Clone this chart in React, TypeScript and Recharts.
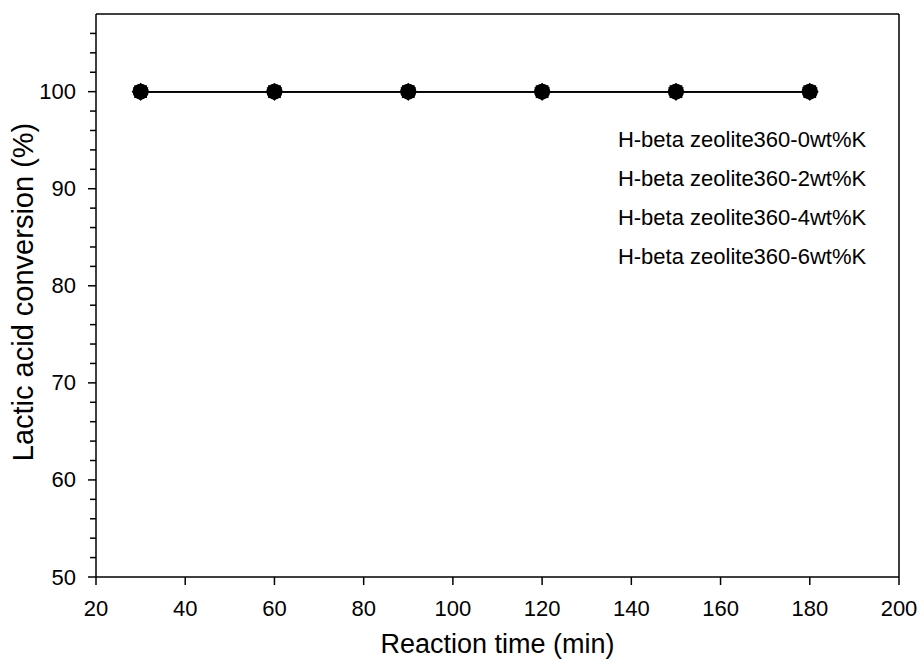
import * as React from "react";
import { LineChart, Line, XAxis, YAxis, Legend, ReferenceLine } from "recharts";

const times = [30, 60, 90, 120, 150, 180];
const conv0 = [100, 100, 100, 100, 100, 100];
const conv2 = [100, 100, 100, 100, 100, 100];
const conv4 = [100, 100, 100, 100, 100, 100];
const conv6 = [100, 100, 100, 100, 100, 100];
const seriesNames = [
  "H-beta zeolite360-0wt%K",
  "H-beta zeolite360-2wt%K",
  "H-beta zeolite360-4wt%K",
  "H-beta zeolite360-6wt%K",
];
const xTicks = [20, 40, 60, 80, 100, 120, 140, 160, 180, 200];
const yTicks = [50, 52, 54, 56, 58, 60, 62, 64, 66, 68, 70, 72, 74, 76, 78, 80, 82, 84, 86, 88, 90, 92, 94, 96, 98, 100, 102, 104, 106];

const data = times.map((t, i) => ({
  time: t,
  k0: conv0[i],
  k2: conv2[i],
  k4: conv4[i],
  k6: conv6[i],
}));

const FONT = "Arial, 'Liberation Sans', sans-serif";

function YTick({ x, y, payload }: any) {
  const major = payload.value % 10 === 0;
  return (
    <g>
      <line x1={x - (major ? 8 : 6)} x2={x} y1={y} y2={y} stroke="#000" strokeWidth={1.5} />
      {major && (
        <text x={x - 20} y={y} textAnchor="end" dominantBaseline="central" fontSize={22} fontFamily={FONT} fill="#000">
          {payload.value}
        </text>
      )}
    </g>
  );
}

function XTick({ x, y, payload }: any) {
  return (
    <g>
      <line x1={x} x2={x} y1={y} y2={y + 8} stroke="#000" strokeWidth={1.5} />
      <text x={x} y={y + 39} textAnchor="middle" fontSize={22} fontFamily={FONT} fill="#000">
        {payload.value}
      </text>
    </g>
  );
}

// overlapping marker shapes, all black, as in the original plot
function Circle({ cx, cy }: any) {
  return <circle cx={cx} cy={cy} r={8} fill="#000" />;
}
function Square({ cx, cy }: any) {
  return <rect x={cx - 6.4} y={cy - 6.4} width={12.8} height={12.8} fill="#000" />;
}
function Diamond({ cx, cy }: any) {
  return <polygon points={`${cx},${cy - 9} ${cx + 9},${cy} ${cx},${cy + 9} ${cx - 9},${cy}`} fill="#000" />;
}
function Triangle({ cx, cy }: any) {
  return <polygon points={`${cx},${cy + 9} ${cx + 7.8},${cy - 4.5} ${cx - 7.8},${cy - 4.5}`} fill="#000" />;
}

const shapes = [Circle, Square, Diamond, Triangle];
const keys = ["k0", "k2", "k4", "k6"];

function LegendText({ payload }: any) {
  return (
    <div style={{ fontFamily: FONT, fontSize: 22, lineHeight: "39px", textAlign: "center", color: "#000" }}>
      {(payload || []).map((p: any) => (
        <div key={p.value}>{p.value}</div>
      ))}
    </div>
  );
}

export default function App() {
  return (
    <div style={{ position: "absolute", left: 0, top: 0, width: 920, height: 659, background: "#fff" }}>
      <LineChart width={920} height={659} data={data} margin={{ top: 14, right: 21, bottom: 0, left: 0 }}>
        <XAxis
          dataKey="time"
          type="number"
          domain={[20, 200]}
          ticks={xTicks}
          height={82}
          tickSize={0}
          tickMargin={0}
          tickLine={false}
          tick={<XTick />}
          axisLine={{ stroke: "#000", strokeWidth: 1.5 }}
          label={{
            content: ({ viewBox }: any) => (
              <text
                x={viewBox.x + viewBox.width / 2}
                y={viewBox.y + 76}
                textAnchor="middle"
                fontSize={27}
                fontFamily={FONT}
                fill="#000"
              >
                Reaction time (min)
              </text>
            ),
          }}
        />
        <YAxis
          type="number"
          domain={[50, 108]}
          ticks={yTicks}
          width={96}
          interval={0}
          tickSize={0}
          tickMargin={0}
          tickLine={false}
          tick={<YTick />}
          axisLine={{ stroke: "#000", strokeWidth: 1.5 }}
          label={{
            content: () => (
              <text
                x={23}
                y={292}
                transform="rotate(-90, 23, 292)"
                textAnchor="middle"
                dominantBaseline="central"
                fontSize={29}
                fontFamily={FONT}
                fill="#000"
              >
                Lactic acid conversion (%)
              </text>
            ),
          }}
        />
        <ReferenceLine y={108} stroke="#000" strokeWidth={1.5} />
        <ReferenceLine x={200} stroke="#000" strokeWidth={1.5} />
        {keys.map((k, i) => {
          const Shape = shapes[i];
          return (
            <Line
              key={k}
              dataKey={k}
              name={seriesNames[i]}
              stroke="#000"
              strokeWidth={1.5}
              dot={<Shape />}
              activeDot={false}
              isAnimationActive={false}
            />
          );
        })}
        <Legend
          layout="vertical"
          verticalAlign="middle"
          align="center"
          content={<LegendText />}
          wrapperStyle={{ top: 120, left: 614, width: 256 }}
        />
      </LineChart>
    </div>
  );
}
